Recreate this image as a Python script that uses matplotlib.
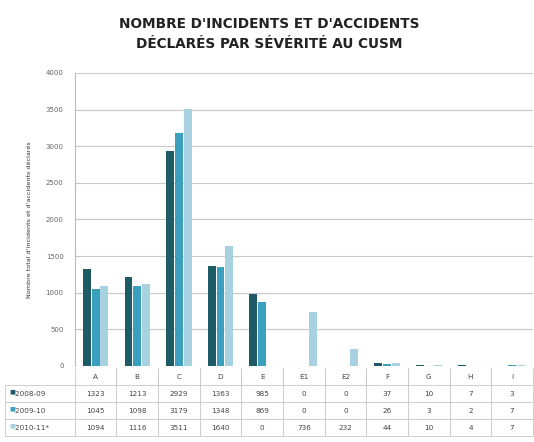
import matplotlib.pyplot as plt
import numpy as np

categories = ["A", "B", "C", "D", "E", "E1", "E2", "F", "G", "H", "I"]
series_names = ["2008-09", "2009-10", "2010-11*"]
v_2008 = [1323, 1213, 2929, 1363, 985, 0, 0, 37, 10, 7, 3]
v_2009 = [1045, 1098, 3179, 1348, 869, 0, 0, 26, 3, 2, 7]
v_2010 = [1094, 1116, 3511, 1640, 0, 736, 232, 44, 10, 4, 7]
colors = ["#1d5c66", "#3aa0bd", "#a8d2df"]

fig = plt.figure(figsize=(5.34, 4.42), dpi=100)
ax = fig.add_axes([0.140, 0.172, 0.858, 0.663])

x = np.arange(len(categories))
w = 0.19
for i, vals in enumerate([v_2008, v_2009, v_2010]):
    ax.bar(x + (i - 1) * 0.21, vals, width=w, color=colors[i], zorder=3)

ax.set_xlim(-0.5, len(categories) - 0.5)
ax.set_ylim(0, 4000)
ax.set_yticks(range(0, 4001, 500))
ax.tick_params(axis="y", labelsize=5, colors="#666666", length=0, pad=8)
ax.set_xticks([])
ax.grid(axis="y", color="#c8c8c8", linewidth=0.8, zorder=0)
for s in ["top", "right", "bottom"]:
    ax.spines[s].set_visible(False)
ax.spines["left"].set_color("#bbbbbb")
ax.set_ylabel("Nombre total d'incidents et d'accidents déclarés", fontsize=4.6,
              color="#333333", labelpad=10)

# tableau de données sous le graphique (1re colonne = légende)
rows = [[""] + categories]
for n, vals in zip(series_names, [v_2008, v_2009, v_2010]):
    rows.append(["    " + n] + [str(v) for v in vals])

ax_w = 0.858 * 534
left_px = 70
tab = ax.table(cellText=rows, cellLoc="center",
               bbox=[-left_px / ax_w, -0.239, 1 + left_px / ax_w, 0.232])
tab.auto_set_font_size(False)
tab.set_fontsize(5.2)
for (r, c), cell in tab.get_celld().items():
    cell.set_edgecolor("#c8c8c8")
    cell.set_linewidth(0.6)
    cell.get_text().set_color("#444444")
    cell.set_width(left_px if c == 0 else ax_w / len(categories))
    if c == 0:
        cell.get_text().set_ha("left")
        cell._loc = "left"
        cell.PAD = 0.02
    if r == 0:
        cell.visible_edges = "LR" if c > 0 else ""

for i, n in enumerate(series_names):
    fig.text(9 / 534, 1 - (392 + 17 * i) / 442, "■", color=colors[i],
             fontsize=4.5, va="center", ha="left")

fig.text(0.505, 0.923, "NOMBRE D'INCIDENTS ET D'ACCIDENTS\nDÉCLARÉS PAR SÉVÉRITÉ AU CUSM",
         ha="center", va="center", fontsize=9.8, fontweight="bold",
         color="#222222", linespacing=1.55)

plt.savefig("out.png", dpi=100)
